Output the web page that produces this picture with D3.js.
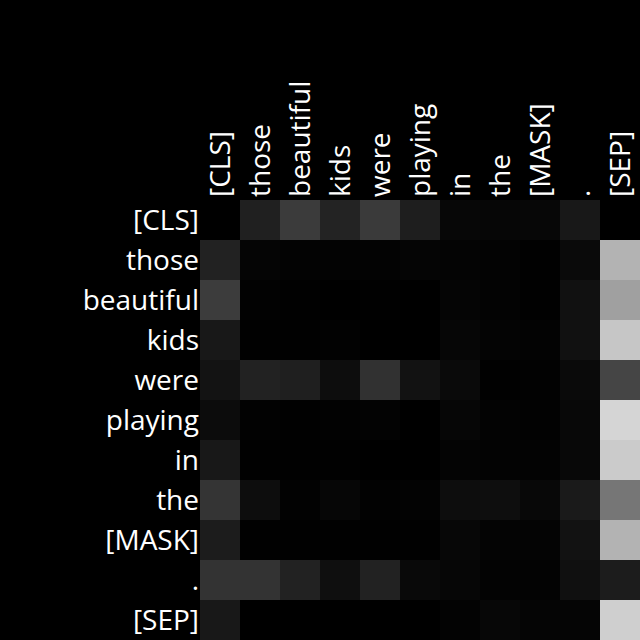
<!DOCTYPE html>
<html><head><meta charset="utf-8">
<script src="https://cdn.jsdelivr.net/npm/d3@7"></script>
<style>html,body{margin:0;padding:0;background:#000;overflow:hidden}</style>
</head><body>
<script>
const tokens = ["[CLS]","those","beautiful","kids","were","playing","in","the","[MASK]",".","[SEP]"];
// attention weights (rows = query token, cols = key token)
const row0  = [0.000,0.125,0.231,0.137,0.227,0.118,0.027,0.024,0.027,0.094,0.000];
const row1  = [0.133,0.020,0.012,0.012,0.012,0.020,0.016,0.012,0.004,0.039,0.702];
const row2  = [0.235,0.008,0.004,0.000,0.004,0.000,0.020,0.012,0.004,0.067,0.627];
const row3  = [0.094,0.004,0.004,0.008,0.000,0.000,0.024,0.016,0.012,0.067,0.776];
const row4  = [0.075,0.133,0.122,0.051,0.192,0.071,0.039,0.004,0.008,0.039,0.271];
const row5  = [0.047,0.008,0.004,0.008,0.012,0.000,0.024,0.012,0.008,0.031,0.835];
const row6  = [0.094,0.004,0.004,0.004,0.000,0.000,0.016,0.012,0.012,0.031,0.796];
const row7  = [0.204,0.051,0.008,0.024,0.008,0.012,0.051,0.055,0.031,0.102,0.463];
const row8  = [0.110,0.004,0.004,0.004,0.004,0.004,0.027,0.016,0.016,0.071,0.702];
const row9  = [0.200,0.200,0.133,0.059,0.133,0.035,0.024,0.012,0.012,0.063,0.110];
const row10 = [0.094,0.000,0.000,0.000,0.000,0.000,0.012,0.027,0.020,0.020,0.812];
const matrix = [row0,row1,row2,row3,row4,row5,row6,row7,row8,row9,row10];

const W = 640, H = 640;
const svg = d3.select("body").append("svg").attr("width",W).attr("height",H)
  .style("background","#000").style("display","block");
svg.append("rect").attr("width",W).attr("height",H).attr("fill","#000");

const x = d3.scaleBand().domain(d3.range(tokens.length)).range([200,640]);
const y = d3.scaleBand().domain(d3.range(tokens.length)).range([200,640]);
const color = d3.scaleLinear().domain([0,1]).range(["#000000","#ffffff"]);

const cells = [];
matrix.forEach((r,i)=>r.forEach((v,j)=>cells.push({i,j,v})));
svg.append("g").selectAll("rect").data(cells).join("rect")
  .attr("x",d=>x(d.j)).attr("y",d=>y(d.i))
  .attr("width",x.bandwidth()).attr("height",y.bandwidth())
  .attr("fill",d=>color(d.v)).attr("shape-rendering","crispEdges");

const font = "'Open Sans', 'Noto Sans', sans-serif";
svg.append("g").selectAll("text").data(tokens).join("text")
  .attr("x",199).attr("y",(d,i)=>y(i)+y.bandwidth()/2 - 1)
  .attr("text-anchor","end").attr("dominant-baseline","central")
  .attr("fill","#fff").attr("font-family",font).attr("font-size",28)
  .text(d=>d);

svg.append("g").selectAll("text").data(tokens).join("text")
  .attr("transform",(d,i)=>`translate(${x(i)+x.bandwidth()/2 - 1},197) rotate(-90)`)
  .attr("text-anchor","start").attr("dominant-baseline","central")
  .attr("fill","#fff").attr("font-family",font).attr("font-size",28)
  .text(d=>d);
</script>
</body></html>
